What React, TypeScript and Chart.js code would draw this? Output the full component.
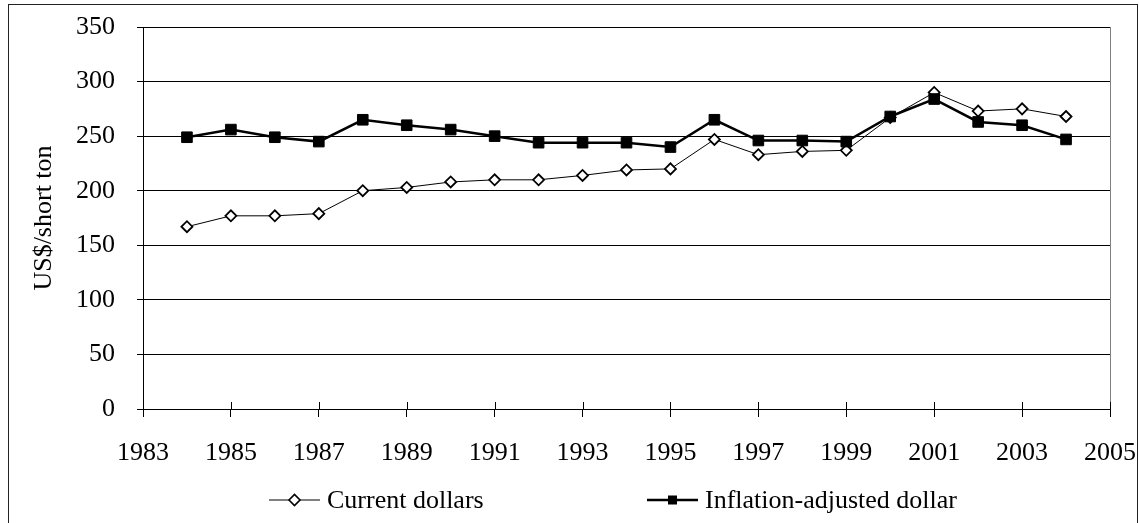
import React, { useEffect, useRef } from 'react';
import { Chart, registerables } from 'chart.js';

Chart.register(...registerables);

// ---- data ----
const years = [1984, 1985, 1986, 1987, 1988, 1989, 1990, 1991, 1992, 1993, 1994, 1995, 1996, 1997, 1998, 1999, 2000, 2001, 2002, 2003, 2004];
const currentDollars = [167, 177, 177, 179, 200, 203, 208, 210, 210, 214, 219, 220, 247, 233, 236, 237, 267, 290, 273, 275, 268];
const inflationAdjusted = [249, 256, 249, 245, 265, 260, 256, 250, 244, 244, 244, 240, 265, 246, 246, 245, 268, 284, 263, 260, 247];
const xTicks = [1983, 1985, 1987, 1989, 1991, 1993, 1995, 1997, 1999, 2001, 2003, 2005];
const yTicks = [0, 50, 100, 150, 200, 250, 300, 350];
const seriesLabels = ['Current dollars', 'Inflation-adjusted dollar'];
const yAxisTitle = 'US$/short ton';

// ---- styles ----
const FONT = "'Liberation Serif', 'Times New Roman', Times, serif";
const FONT_SIZE = 26;
const W = 1139;
const H = 523;
const LEGEND = { y: 500, baseline: 508, starts: [269, 647], lineLen: 51, textGap: 7, fontSize: 26 };

const framePlugin = {
  id: 'frame',
  beforeDatasetsDraw(chart: any) {
    const { ctx, chartArea } = chart;
    ctx.save();
    ctx.strokeStyle = '#808080';
    ctx.lineWidth = 1;
    ctx.beginPath();
    const x = Math.round(chartArea.right) + 0.5;
    ctx.moveTo(x, chartArea.top);
    ctx.lineTo(x, chartArea.bottom);
    ctx.stroke();
    ctx.restore();
  },
  afterDraw(chart: any) {
    const { ctx, chartArea } = chart;
    const xs = chart.scales.x;
    ctx.save();
    // crossing tick marks on x axis (upper half)
    ctx.strokeStyle = '#000';
    ctx.lineWidth = 1;
    ctx.beginPath();
    xs.ticks.forEach((t: any) => {
      const px = Math.round(xs.getPixelForValue(t.value)) + 0.5;
      ctx.moveTo(px, chartArea.bottom - 7);
      ctx.lineTo(px, chartArea.bottom);
    });
    ctx.stroke();
    // outer border
    ctx.strokeStyle = '#222';
    ctx.strokeRect(8.5, 4.5, W - 10, H - 2);
    ctx.restore();
  },
};

const legendPlugin = {
  id: 'customLegend',
  afterDraw(chart: any) {
    const { ctx } = chart;
    ctx.save();
    chart.data.datasets.forEach((ds: any, i: number) => {
      const x0 = LEGEND.starts[i];
      const y = LEGEND.y;
      ctx.strokeStyle = ds.borderColor;
      ctx.lineWidth = i === 0 ? 1 : 2.5;
      ctx.beginPath();
      ctx.moveTo(x0, y);
      ctx.lineTo(x0 + LEGEND.lineLen, y);
      ctx.stroke();
      const cx = x0 + LEGEND.lineLen / 2;
      if (ds.pointStyle === 'rectRot') {
        const r = 5.5;
        ctx.beginPath();
        ctx.moveTo(cx - r, y);
        ctx.lineTo(cx, y - r);
        ctx.lineTo(cx + r, y);
        ctx.lineTo(cx, y + r);
        ctx.closePath();
        ctx.fillStyle = ds.pointBackgroundColor;
        ctx.fill();
        ctx.lineWidth = 1.6;
        ctx.strokeStyle = ds.pointBorderColor;
        ctx.stroke();
      } else {
        const s = 4.5;
        ctx.fillStyle = ds.pointBackgroundColor;
        ctx.fillRect(cx - s, y - s, 2 * s, 2 * s);
      }
      ctx.fillStyle = '#000';
      ctx.font = `${LEGEND.fontSize}px ${FONT}`;
      ctx.textAlign = 'left';
      ctx.textBaseline = 'alphabetic';
      ctx.fillText(ds.label, x0 + LEGEND.lineLen + LEGEND.textGap, LEGEND.baseline);
    });
    ctx.restore();
  },
};

export default function App() {
  const ref = useRef<HTMLCanvasElement>(null);
  useEffect(() => {
    const canvas = ref.current;
    if (!canvas) return;
    const chart = new Chart(canvas, {
      type: 'line',
      data: {
        datasets: [
          {
            label: seriesLabels[0],
            data: years.map((x, i) => ({ x, y: currentDollars[i] })),
            borderColor: '#000',
            borderWidth: 1,
            pointStyle: 'rectRot',
            pointRadius: 5.5,
            pointBackgroundColor: '#fff',
            pointBorderColor: '#000',
            pointBorderWidth: 1.8,
            tension: 0,
            order: 1,
          },
          {
            label: seriesLabels[1],
            data: years.map((x, i) => ({ x, y: inflationAdjusted[i] })),
            borderColor: '#000',
            borderWidth: 2.5,
            pointStyle: 'rect',
            pointRadius: 7.5,
            pointBackgroundColor: '#000',
            pointBorderColor: '#000',
            pointBorderWidth: 1,
            tension: 0,
            order: 0,
          },
        ],
      } as any,
      options: {
        responsive: false,
        animation: false,
        layout: { padding: { left: 10, top: 27, right: W - 1110, bottom: 54 } },
        plugins: { legend: { display: false }, tooltip: { enabled: false } },
        scales: {
          x: {
            type: 'linear',
            min: 1983,
            max: 2005,
            afterBuildTicks: (scale: any) => {
              scale.ticks = xTicks.map((v) => ({ value: v }));
            },
            afterFit: (scale: any) => {
              scale.height = 60;
              scale.paddingLeft = 0;
              scale.paddingRight = 0;
            },
            grid: { display: true, drawOnChartArea: false, drawTicks: true, tickLength: 8, color: '#000' },
            border: { display: true, color: '#000', width: 1 },
            ticks: {
              autoSkip: false,
              maxRotation: 0,
              padding: 21,
              color: '#000',
              font: { family: FONT, size: FONT_SIZE },
              callback: (v: any) => String(v),
            },
          },
          y: {
            min: 0,
            max: 350,
            afterBuildTicks: (scale: any) => {
              scale.ticks = yTicks.map((v) => ({ value: v }));
            },
            afterFit: (scale: any) => {
              scale.width = 133;
              scale.paddingTop = 0;
              scale.paddingBottom = 0;
            },
            grid: { display: true, drawTicks: true, tickLength: 6, color: '#000', lineWidth: 1 },
            border: { display: true, color: '#000', width: 1 },
            ticks: {
              padding: 22,
              color: '#000',
              font: { family: FONT, size: FONT_SIZE },
              callback: (v: any) => String(v),
            },
            title: {
              display: true,
              text: yAxisTitle,
              color: '#000',
              font: { family: FONT, size: FONT_SIZE },
              padding: { top: 19, bottom: 0 },
            },
          },
        },
      } as any,
      plugins: [framePlugin, legendPlugin],
    });
    return () => chart.destroy();
  }, []);
  return (
    <div style={{ position: 'absolute', left: 0, top: 0, width: W, height: H, background: '#fff' }}>
      <canvas ref={ref} width={W} height={H} style={{ display: 'block' }} />
    </div>
  );
}
